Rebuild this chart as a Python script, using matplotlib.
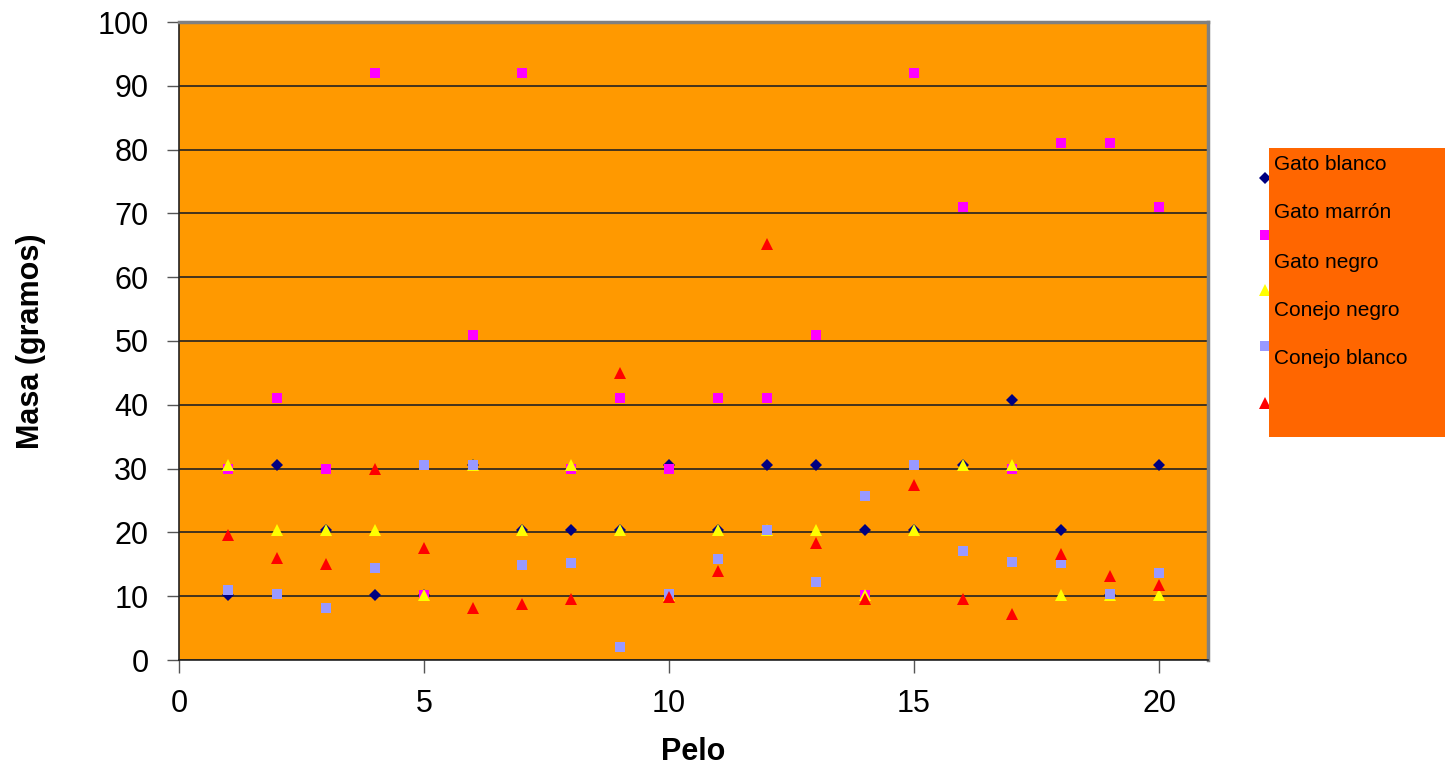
import matplotlib.pyplot as plt
from matplotlib.patches import Rectangle
from matplotlib.lines import Line2D

plt.rcParams['font.family'] = ['Liberation Sans', 'DejaVu Sans']

pelo = list(range(1, 21))

gato_blanco = [10.2, 30.6, 20.4, 10.2, 10.2, 30.6, 20.4, 20.4, 20.4, 30.6,
               20.4, 30.6, 30.6, 20.4, 20.4, 30.6, 40.8, 20.4, 10.2, 30.6]
gato_marron = [30, 41, 30, 92, 10.2, 51, 92, 30, 41, 30,
               41, 41, 51, 10.2, 92, 71, 30, 81, 81, 71]
gato_negro = [30.6, 20.4, 20.4, 20.4, 10.2, 30.6, 20.4, 30.6, 20.4, 10.2,
              20.4, 20.4, 20.4, 10.2, 20.4, 30.6, 30.6, 10.2, 10.2, 10.2]
conejo_negro = [11.0, 10.3, 8.2, 14.4, 30.6, 30.6, 14.9, 15.2, 2.0, 10.3,
                15.9, 20.3, 12.2, 25.7, 30.6, 17.1, 15.3, 15.2, 10.3, 13.7]
conejo_blanco = [19.6, 16.0, 15.0, 29.9, 17.5, 8.1, 8.8, 9.5, 45.0, 9.9,
                 13.9, 65.2, 18.3, 9.5, 27.5, 9.5, 7.2, 16.6, 13.2, 11.8]

series = [
    ("Gato blanco", gato_blanco, "D", "#000080", 6.5),
    ("Gato marrón", gato_marron, "s", "#FF00FF", 7.5),
    ("Gato negro", gato_negro, "^", "#FFFF00", 8.5),
    ("Conejo negro", conejo_negro, "s", "#9999FF", 7.5),
    ("Conejo blanco", conejo_blanco, "^", "#FF0000", 8.5),
]

fig = plt.figure(figsize=(14.45, 7.75), dpi=100)
ax = fig.add_axes([179 / 1445, 1 - 660 / 775, (1208 - 179) / 1445, (660 - 22) / 775])
ax.set_facecolor("#FF9900")

for name, vals, mk, col, ms in series:
    ax.plot(pelo, vals, linestyle="none", marker=mk, color=col,
            markersize=ms, markeredgewidth=0, zorder=3)

ax.set_xlim(0, 21)
ax.set_ylim(0, 100)
ax.set_xticks([0, 5, 10, 15, 20])
ax.set_yticks(range(0, 101, 10))
ax.yaxis.grid(True, color="#222222", linewidth=1.2)
ax.set_axisbelow(True)
ax.tick_params(axis="both", direction="out", length=9, width=1, color="#555555",
               labelsize=22)
ax.tick_params(axis="x", pad=12)
ax.tick_params(axis="y", pad=13)

for s in ["left", "bottom"]:
    ax.spines[s].set_color("#222222")
    ax.spines[s].set_linewidth(1.2)
for s in ["top", "right"]:
    ax.spines[s].set_color("#808080")
    ax.spines[s].set_linewidth(2.5)

ax.set_xlabel("Pelo", fontsize=22, fontweight="bold", labelpad=13)
ax.set_ylabel("Masa (gramos)", fontsize=22, fontweight="bold", labelpad=37)

# legend drawn like the original (orange box, markers peeking from the left)
W, H = 1445, 775
marker_y = [178, 235, 290, 346, 403]
label_y = [165, 213, 262, 310, 359]
for (name, vals, mk, col, ms), my in zip(series, marker_y):
    fig.add_artist(Line2D([1265 / W], [1 - my / H], marker=mk, color=col,
                          markersize=ms, markeredgewidth=0, linestyle="none",
                          zorder=1))
fig.add_artist(Rectangle((1269 / W, 1 - 437 / H), (1445 - 1269) / W, (437 - 148) / H,
                         facecolor="#FF6600", edgecolor="none", zorder=2))
for (name, *_), ly in zip(series, label_y):
    fig.text(1274 / W, 1 - ly / H, name, fontsize=15, va="center", ha="left", zorder=3)

plt.savefig("out.png", dpi=100)
